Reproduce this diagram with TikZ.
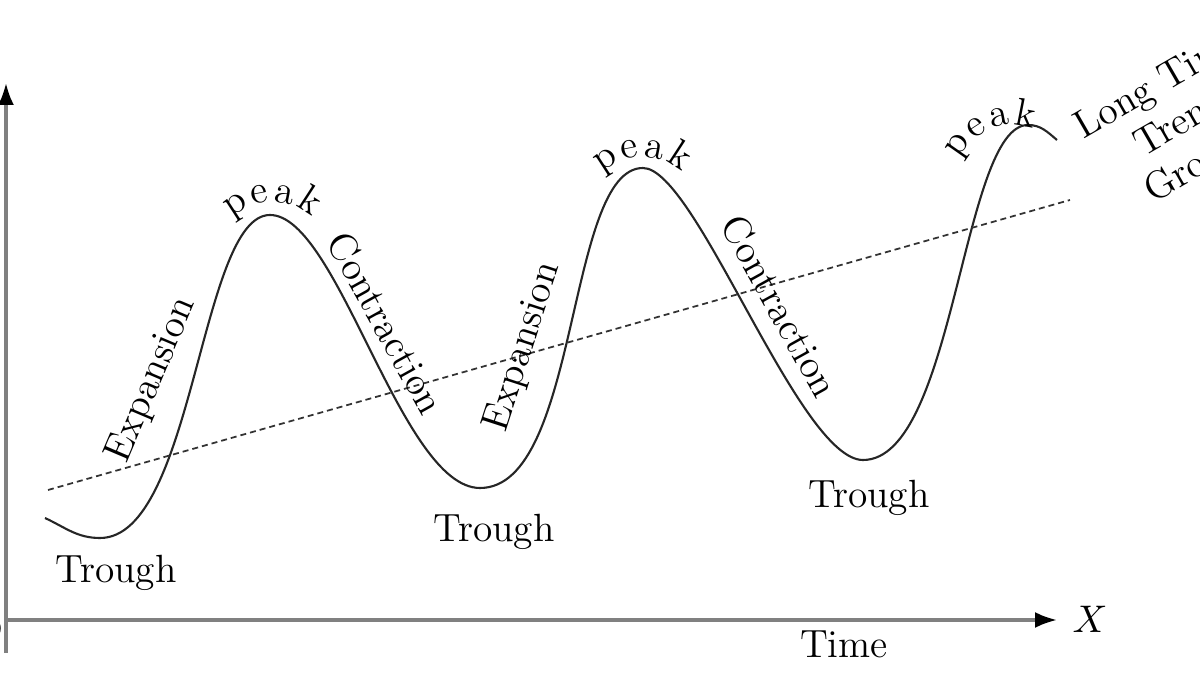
\documentclass[tikz,border=0pt]{standalone}
\usetikzlibrary{arrows.meta}
\begin{document}
\begin{tikzpicture}[
  every node/.style={font=\fontsize{11.2}{12.8}\selectfont},
  eje/.style={draw=black!50, line width=0.9pt},
  punta/.style={-{Latex[length=2.2mm,width=1.6mm,color=black]}},
  ciclo/.style={draw=black!85, line width=0.6pt},
  tendencia/.style={draw=black!80, line width=0.5pt, dash pattern=on 0.6mm off 0.4mm},
  rotulo/.style={inner sep=0pt}
]
  \useasboundingbox (0,0) rectangle (12,6.75);
  \clip (0,0) rectangle (12,6.75);

  % Ejes
  \coordinate (o) at (0.06,0.55);
  \coordinate (ybot) at (0.06,0.22);
  \coordinate (ytop) at (0.06,5.92);
  \coordinate (xtip) at (10.57,0.55);
  \draw[eje, punta] (ybot) -- (ytop);
  \draw[eje, punta] (o) -- (xtip);
  \node[rotulo, anchor=base west] (xlab) at (10.72,0.42) {$X$};
  \node[rotulo, anchor=base] (tiempo) at (8.44,0.17) {Time};
  \node[rotulo, anchor=east] (origen) at (0.035,0.43) {$O$};

  % Ciclo
  \coordinate (c0) at (0.45,1.57);
  \coordinate (t1) at (1.00,1.37);
  \coordinate (p1) at (2.70,4.60);
  \coordinate (t2) at (4.80,1.87);
  \coordinate (p2) at (6.43,5.07);
  \coordinate (t3) at (8.63,2.15);
  \coordinate (p3) at (10.28,5.50);
  \coordinate (c1) at (10.57,5.35);
  \draw[ciclo] (c0) to[out=-25,in=180] (t1)
    .. controls (1.94,1.37) and (2.00,4.60) .. (p1)
    .. controls (3.38,4.60) and (4.01,1.87) .. (t2)
    .. controls (5.80,1.87) and (5.66,5.07) .. (p2)
    .. controls (6.96,5.07) and (7.99,2.15) .. (t3)
    .. controls (9.55,2.15) and (9.62,5.50) .. (p3)
    to[out=0,in=140] (c1);

  % Tendencia
  \coordinate (d0) at (0.48,1.85);
  \coordinate (d1) at (10.70,4.75);
  \draw[tendencia] (d0) -- (d1);
  \node[rotulo, anchor=north, rotate=30, align=center] (largo) at (11.50,6.055)
    {Long Time\\Trend\\Growth};

  % Valles
  \node[rotulo, anchor=base] (valle1) at (1.16,0.92) {Trough};
  \node[rotulo, anchor=base] (valle2) at (4.94,1.33) {Trough};
  \node[rotulo, anchor=base] (valle3) at (8.69,1.67) {Trough};

  % Fases
  \node[rotate=67] (exp1) at (1.52,2.95) {Expansion};
  \node[rotate=-61] (con1) at (3.86,3.52) {Contraction};
  \node[rotate=72] (exp2) at (5.23,3.28) {Expansion};
  \node[rotate=-61] (con2) at (7.80,3.69) {Contraction};

  % Picos
  \foreach \cx/\cy/\ini [count=\j] in {2.72/4.15/33, 6.42/4.60/33, 10.12/4.92/55}
    \foreach \l [count=\i] in {p,e,a,k} {
      \pgfmathsetmacro{\ang}{\ini-22*(\i-1)}
      \path (\cx,\cy) ++(\ang+90:0.58)
        node[rotulo, anchor=base, rotate=\ang] (pico\j\l) {\l};
    }
\end{tikzpicture}
\end{document}
